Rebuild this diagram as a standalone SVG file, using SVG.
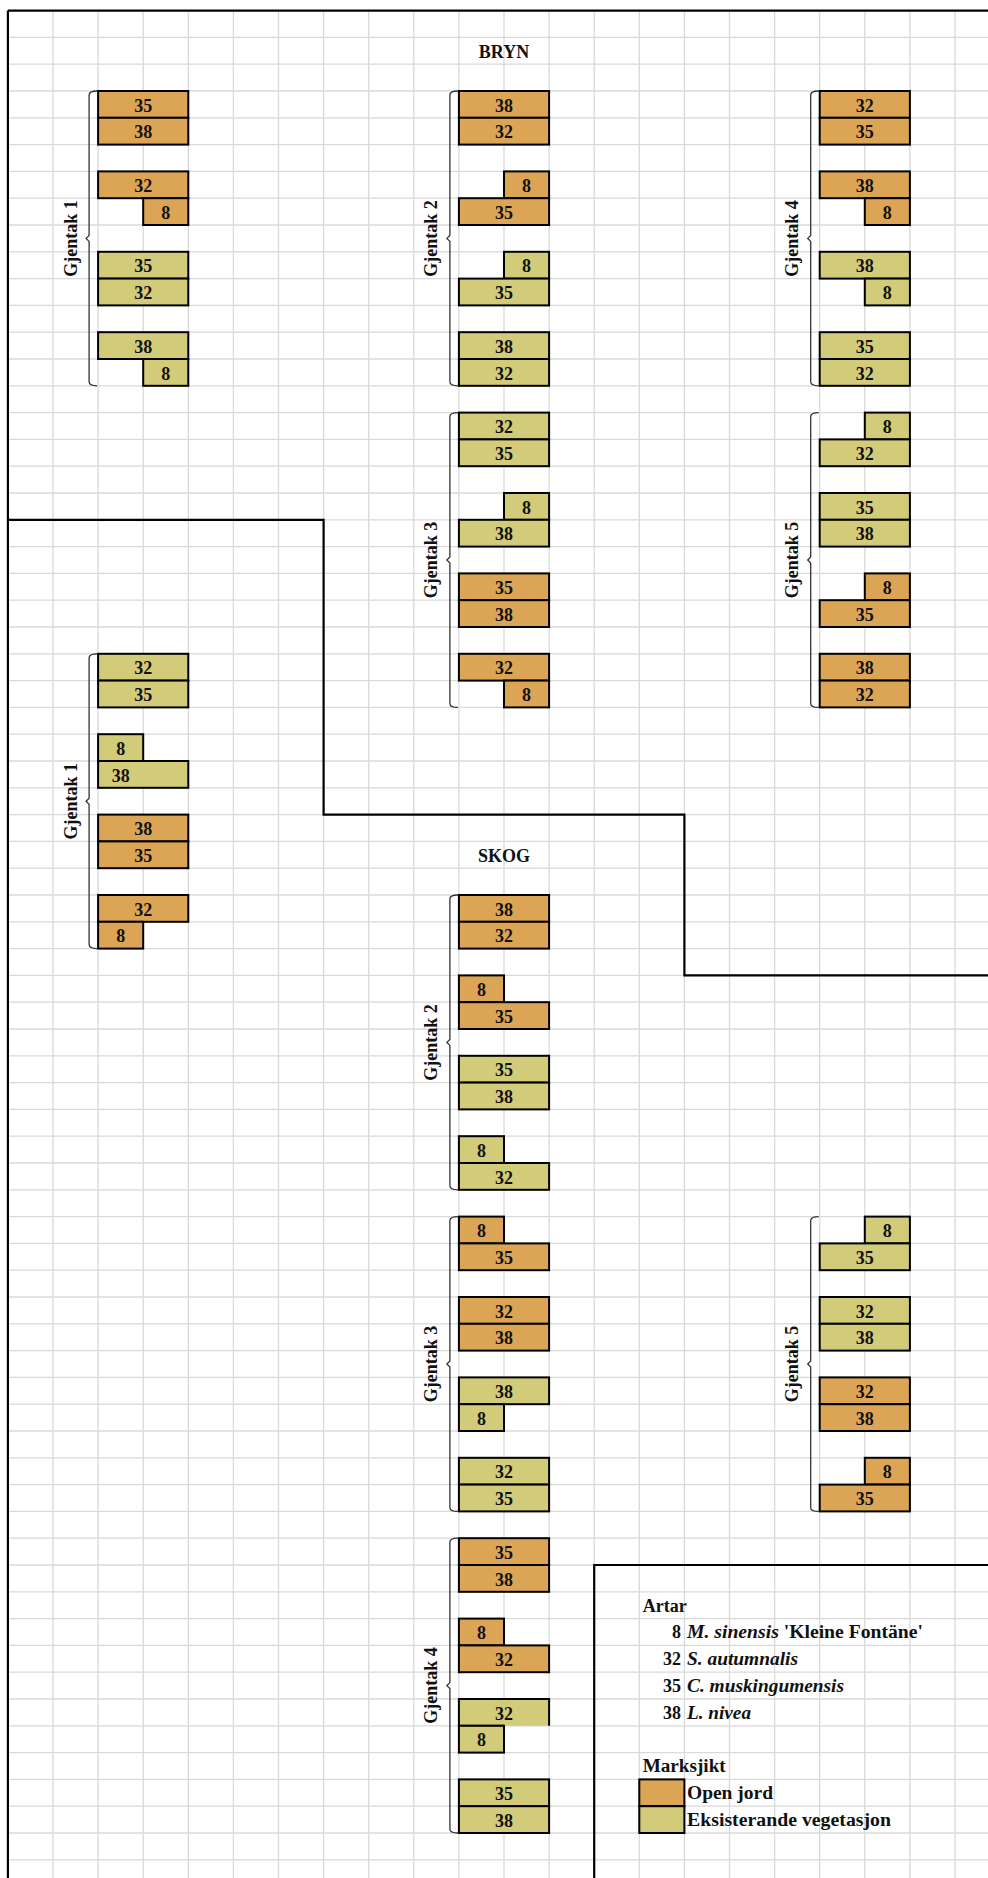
<svg xmlns="http://www.w3.org/2000/svg" width="988" height="1878" viewBox="0 0 988 1878">
<style>
.grid{stroke:#d9d9d9;stroke-width:1.3;fill:none}
.border{stroke:#000;stroke-width:2.2;fill:none}
.o{fill:#DCA556;stroke:#000;stroke-width:2}
.g{fill:#D2CB79;stroke:#000;stroke-width:2}
.gf{fill:#D2CB79;stroke:none}
.edge{fill:none;stroke:#000;stroke-width:2}
text{font-family:"Liberation Serif","Times New Roman",serif;font-weight:bold;font-size:18px;fill:#111}
.n{text-anchor:middle}
.r{text-anchor:end}
.i{font-style:italic}
.brace{fill:none;stroke:#333;stroke-width:1.3}
</style>
<rect width="988" height="1878" fill="#fff"/>
<g id="grid">
<path class="grid" d="M53,10.6V1878M98.1,10.6V1878M143.2,10.6V1878M188.3,10.6V1878M233.4,10.6V1878M278.5,10.6V1878M323.6,10.6V1878M368.7,10.6V1878M413.8,10.6V1878M458.9,10.6V1878M504,10.6V1878M549.1,10.6V1878M594.2,10.6V1878M639.3,10.6V1878M684.4,10.6V1878M729.5,10.6V1878M774.6,10.6V1878M819.7,10.6V1878M864.8,10.6V1878M909.9,10.6V1878M955,10.6V1878
M7.9,37.4H988M7.9,64.2H988M7.9,91H988M7.9,117.8H988M7.9,144.6H988M7.9,171.4H988M7.9,198.2H988M7.9,225H988M7.9,251.8H988M7.9,278.6H988M7.9,305.4H988M7.9,332.2H988M7.9,359H988M7.9,385.8H988M7.9,412.6H988M7.9,439.4H988M7.9,466.2H988M7.9,493H988M7.9,519.8H988M7.9,546.6H988M7.9,573.4H988M7.9,600.2H988M7.9,627H988M7.9,653.8H988M7.9,680.6H988M7.9,707.4H988M7.9,734.2H988M7.9,761H988M7.9,787.8H988M7.9,814.6H988M7.9,841.4H988M7.9,868.2H988M7.9,895H988M7.9,921.8H988M7.9,948.6H988M7.9,975.4H988M7.9,1002.2H988M7.9,1029H988M7.9,1055.8H988M7.9,1082.6H988M7.9,1109.4H988M7.9,1136.2H988M7.9,1163H988M7.9,1189.8H988M7.9,1216.6H988M7.9,1243.4H988M7.9,1270.2H988M7.9,1297H988M7.9,1323.8H988M7.9,1350.6H988M7.9,1377.4H988M7.9,1404.2H988M7.9,1431H988M7.9,1457.8H988M7.9,1484.6H988M7.9,1511.4H988M7.9,1538.2H988M7.9,1565H988M7.9,1591.8H988M7.9,1618.6H988M7.9,1645.4H988M7.9,1672.2H988M7.9,1699H988M7.9,1725.8H988M7.9,1752.6H988M7.9,1779.4H988M7.9,1806.2H988M7.9,1833H988M7.9,1859.8H988"/>
</g>
<g id="connectors">
<path class="border" d="M7.9,10.6H988M7.9,10.6V1878"/>
<path class="border" d="M7.9,519.8H323.6V814.6H684.4V975.4H988"/>
<path class="border" d="M594.2,1878V1565H988"/>
</g>
<g id="title-bryn"><text class="n" x="504" y="58">BRYN</text></g>
<g id="title-skog"><text class="n" x="504" y="862">SKOG</text></g>

<g id="bryn-gjentak-1">
<path class="brace" d="M97.1,91Q89.1,91 89.1,95V235.4L86.1,238.4L89.1,241.4V381.8Q89.1,385.8 97.1,385.8"/>
<text class="n" transform="translate(76.5,238.4) rotate(-90)">Gjentak 1</text>
<rect class="o" x="98.1" y="91" width="90.2" height="26.8"/><text class="n" x="143.2" y="111.6">35</text>
<rect class="o" x="98.1" y="117.8" width="90.2" height="26.8"/><text class="n" x="143.2" y="138.4">38</text>
<rect class="o" x="98.1" y="171.4" width="90.2" height="26.8"/><text class="n" x="143.2" y="192">32</text>
<rect class="o" x="143.2" y="198.2" width="45.1" height="26.8"/><text class="n" x="165.75" y="218.8">8</text>
<rect class="g" x="98.1" y="251.8" width="90.2" height="26.8"/><text class="n" x="143.2" y="272.4">35</text>
<rect class="g" x="98.1" y="278.6" width="90.2" height="26.8"/><text class="n" x="143.2" y="299.2">32</text>
<rect class="g" x="98.1" y="332.2" width="90.2" height="26.8"/><text class="n" x="143.2" y="352.8">38</text>
<rect class="g" x="143.2" y="359" width="45.1" height="26.8"/><text class="n" x="165.75" y="379.6">8</text>
</g>

<g id="bryn-gjentak-2">
<path class="brace" d="M457.9,91Q449.9,91 449.9,95V235.4L446.9,238.4L449.9,241.4V381.8Q449.9,385.8 457.9,385.8"/>
<text class="n" transform="translate(437.3,238.4) rotate(-90)">Gjentak 2</text>
<rect class="o" x="458.9" y="91" width="90.2" height="26.8"/><text class="n" x="504" y="111.6">38</text>
<rect class="o" x="458.9" y="117.8" width="90.2" height="26.8"/><text class="n" x="504" y="138.4">32</text>
<rect class="o" x="504" y="171.4" width="45.1" height="26.8"/><text class="n" x="526.55" y="192">8</text>
<rect class="o" x="458.9" y="198.2" width="90.2" height="26.8"/><text class="n" x="504" y="218.8">35</text>
<rect class="g" x="504" y="251.8" width="45.1" height="26.8"/><text class="n" x="526.55" y="272.4">8</text>
<rect class="g" x="458.9" y="278.6" width="90.2" height="26.8"/><text class="n" x="504" y="299.2">35</text>
<rect class="g" x="458.9" y="332.2" width="90.2" height="26.8"/><text class="n" x="504" y="352.8">38</text>
<rect class="g" x="458.9" y="359" width="90.2" height="26.8"/><text class="n" x="504" y="379.6">32</text>
</g>

<g id="bryn-gjentak-4">
<path class="brace" d="M818.7,91Q810.7,91 810.7,95V235.4L807.7,238.4L810.7,241.4V381.8Q810.7,385.8 818.7,385.8"/>
<text class="n" transform="translate(798.1,238.4) rotate(-90)">Gjentak 4</text>
<rect class="o" x="819.7" y="91" width="90.2" height="26.8"/><text class="n" x="864.8" y="111.6">32</text>
<rect class="o" x="819.7" y="117.8" width="90.2" height="26.8"/><text class="n" x="864.8" y="138.4">35</text>
<rect class="o" x="819.7" y="171.4" width="90.2" height="26.8"/><text class="n" x="864.8" y="192">38</text>
<rect class="o" x="864.8" y="198.2" width="45.1" height="26.8"/><text class="n" x="887.35" y="218.8">8</text>
<rect class="g" x="819.7" y="251.8" width="90.2" height="26.8"/><text class="n" x="864.8" y="272.4">38</text>
<rect class="g" x="864.8" y="278.6" width="45.1" height="26.8"/><text class="n" x="887.35" y="299.2">8</text>
<rect class="g" x="819.7" y="332.2" width="90.2" height="26.8"/><text class="n" x="864.8" y="352.8">35</text>
<rect class="g" x="819.7" y="359" width="90.2" height="26.8"/><text class="n" x="864.8" y="379.6">32</text>
</g>

<g id="bryn-gjentak-3">
<path class="brace" d="M457.9,412.6Q449.9,412.6 449.9,416.6V557L446.9,560L449.9,563V703.4Q449.9,707.4 457.9,707.4"/>
<text class="n" transform="translate(437.3,560) rotate(-90)">Gjentak 3</text>
<rect class="g" x="458.9" y="412.6" width="90.2" height="26.8"/><text class="n" x="504" y="433.2">32</text>
<rect class="g" x="458.9" y="439.4" width="90.2" height="26.8"/><text class="n" x="504" y="460">35</text>
<rect class="g" x="504" y="493" width="45.1" height="26.8"/><text class="n" x="526.55" y="513.6">8</text>
<rect class="g" x="458.9" y="519.8" width="90.2" height="26.8"/><text class="n" x="504" y="540.4">38</text>
<rect class="o" x="458.9" y="573.4" width="90.2" height="26.8"/><text class="n" x="504" y="594">35</text>
<rect class="o" x="458.9" y="600.2" width="90.2" height="26.8"/><text class="n" x="504" y="620.8">38</text>
<rect class="o" x="458.9" y="653.8" width="90.2" height="26.8"/><text class="n" x="504" y="674.4">32</text>
<rect class="o" x="504" y="680.6" width="45.1" height="26.8"/><text class="n" x="526.55" y="701.2">8</text>
</g>

<g id="bryn-gjentak-5">
<path class="brace" d="M818.7,412.6Q810.7,412.6 810.7,416.6V557L807.7,560L810.7,563V703.4Q810.7,707.4 818.7,707.4"/>
<text class="n" transform="translate(798.1,560) rotate(-90)">Gjentak 5</text>
<rect class="g" x="864.8" y="412.6" width="45.1" height="26.8"/><text class="n" x="887.35" y="433.2">8</text>
<rect class="g" x="819.7" y="439.4" width="90.2" height="26.8"/><text class="n" x="864.8" y="460">32</text>
<rect class="g" x="819.7" y="493" width="90.2" height="26.8"/><text class="n" x="864.8" y="513.6">35</text>
<rect class="g" x="819.7" y="519.8" width="90.2" height="26.8"/><text class="n" x="864.8" y="540.4">38</text>
<rect class="o" x="864.8" y="573.4" width="45.1" height="26.8"/><text class="n" x="887.35" y="594">8</text>
<rect class="o" x="819.7" y="600.2" width="90.2" height="26.8"/><text class="n" x="864.8" y="620.8">35</text>
<rect class="o" x="819.7" y="653.8" width="90.2" height="26.8"/><text class="n" x="864.8" y="674.4">38</text>
<rect class="o" x="819.7" y="680.6" width="90.2" height="26.8"/><text class="n" x="864.8" y="701.2">32</text>
</g>

<g id="skog-gjentak-1">
<path class="brace" d="M97.1,653.8Q89.1,653.8 89.1,657.8V798.2L86.1,801.2L89.1,804.2V944.6Q89.1,948.6 97.1,948.6"/>
<text class="n" transform="translate(76.5,801.2) rotate(-90)">Gjentak 1</text>
<rect class="g" x="98.1" y="653.8" width="90.2" height="26.8"/><text class="n" x="143.2" y="674.4">32</text>
<rect class="g" x="98.1" y="680.6" width="90.2" height="26.8"/><text class="n" x="143.2" y="701.2">35</text>
<rect class="g" x="98.1" y="734.2" width="45.1" height="26.8"/><text class="n" x="120.65" y="754.8">8</text>
<rect class="g" x="98.1" y="761" width="90.2" height="26.8"/><text class="n" x="120.65" y="781.6">38</text>
<rect class="o" x="98.1" y="814.6" width="90.2" height="26.8"/><text class="n" x="143.2" y="835.2">38</text>
<rect class="o" x="98.1" y="841.4" width="90.2" height="26.8"/><text class="n" x="143.2" y="862">35</text>
<rect class="o" x="98.1" y="895" width="90.2" height="26.8"/><text class="n" x="143.2" y="915.6">32</text>
<rect class="o" x="98.1" y="921.8" width="45.1" height="26.8"/><text class="n" x="120.65" y="942.4">8</text>
</g>

<g id="skog-gjentak-2">
<path class="brace" d="M457.9,895Q449.9,895 449.9,899V1039.4L446.9,1042.4L449.9,1045.4V1185.8Q449.9,1189.8 457.9,1189.8"/>
<text class="n" transform="translate(437.3,1042.4) rotate(-90)">Gjentak 2</text>
<rect class="o" x="458.9" y="895" width="90.2" height="26.8"/><text class="n" x="504" y="915.6">38</text>
<rect class="o" x="458.9" y="921.8" width="90.2" height="26.8"/><text class="n" x="504" y="942.4">32</text>
<rect class="o" x="458.9" y="975.4" width="45.1" height="26.8"/><text class="n" x="481.45" y="996">8</text>
<rect class="o" x="458.9" y="1002.2" width="90.2" height="26.8"/><text class="n" x="504" y="1022.8">35</text>
<rect class="g" x="458.9" y="1055.8" width="90.2" height="26.8"/><text class="n" x="504" y="1076.4">35</text>
<rect class="g" x="458.9" y="1082.6" width="90.2" height="26.8"/><text class="n" x="504" y="1103.2">38</text>
<rect class="g" x="458.9" y="1136.2" width="45.1" height="26.8"/><text class="n" x="481.45" y="1156.8">8</text>
<rect class="g" x="458.9" y="1163" width="90.2" height="26.8"/><text class="n" x="504" y="1183.6">32</text>
</g>

<g id="skog-gjentak-3">
<path class="brace" d="M457.9,1216.6Q449.9,1216.6 449.9,1220.6V1361L446.9,1364L449.9,1367V1507.4Q449.9,1511.4 457.9,1511.4"/>
<text class="n" transform="translate(437.3,1364) rotate(-90)">Gjentak 3</text>
<rect class="o" x="458.9" y="1216.6" width="45.1" height="26.8"/><text class="n" x="481.45" y="1237.2">8</text>
<rect class="o" x="458.9" y="1243.4" width="90.2" height="26.8"/><text class="n" x="504" y="1264">35</text>
<rect class="o" x="458.9" y="1297" width="90.2" height="26.8"/><text class="n" x="504" y="1317.6">32</text>
<rect class="o" x="458.9" y="1323.8" width="90.2" height="26.8"/><text class="n" x="504" y="1344.4">38</text>
<rect class="g" x="458.9" y="1377.4" width="90.2" height="26.8"/><text class="n" x="504" y="1398">38</text>
<rect class="g" x="458.9" y="1404.2" width="45.1" height="26.8"/><text class="n" x="481.45" y="1424.8">8</text>
<rect class="g" x="458.9" y="1457.8" width="90.2" height="26.8"/><text class="n" x="504" y="1478.4">32</text>
<rect class="g" x="458.9" y="1484.6" width="90.2" height="26.8"/><text class="n" x="504" y="1505.2">35</text>
</g>

<g id="skog-gjentak-5">
<path class="brace" d="M818.7,1216.6Q810.7,1216.6 810.7,1220.6V1361L807.7,1364L810.7,1367V1507.4Q810.7,1511.4 818.7,1511.4"/>
<text class="n" transform="translate(798.1,1364) rotate(-90)">Gjentak 5</text>
<rect class="g" x="864.8" y="1216.6" width="45.1" height="26.8"/><text class="n" x="887.35" y="1237.2">8</text>
<rect class="g" x="819.7" y="1243.4" width="90.2" height="26.8"/><text class="n" x="864.8" y="1264">35</text>
<rect class="g" x="819.7" y="1297" width="90.2" height="26.8"/><text class="n" x="864.8" y="1317.6">32</text>
<rect class="g" x="819.7" y="1323.8" width="90.2" height="26.8"/><text class="n" x="864.8" y="1344.4">38</text>
<rect class="o" x="819.7" y="1377.4" width="90.2" height="26.8"/><text class="n" x="864.8" y="1398">32</text>
<rect class="o" x="819.7" y="1404.2" width="90.2" height="26.8"/><text class="n" x="864.8" y="1424.8">38</text>
<rect class="o" x="864.8" y="1457.8" width="45.1" height="26.8"/><text class="n" x="887.35" y="1478.4">8</text>
<rect class="o" x="819.7" y="1484.6" width="90.2" height="26.8"/><text class="n" x="864.8" y="1505.2">35</text>
</g>

<g id="skog-gjentak-4">
<path class="brace" d="M457.9,1538.2Q449.9,1538.2 449.9,1542.2V1682.6L446.9,1685.6L449.9,1688.6V1829Q449.9,1833 457.9,1833"/>
<text class="n" transform="translate(437.3,1685.6) rotate(-90)">Gjentak 4</text>
<rect class="o" x="458.9" y="1538.2" width="90.2" height="26.8"/><text class="n" x="504" y="1558.8">35</text>
<rect class="o" x="458.9" y="1565" width="90.2" height="26.8"/><text class="n" x="504" y="1585.6">38</text>
<rect class="o" x="458.9" y="1618.6" width="45.1" height="26.8"/><text class="n" x="481.45" y="1639.2">8</text>
<rect class="o" x="458.9" y="1645.4" width="90.2" height="26.8"/><text class="n" x="504" y="1666">32</text>
<rect class="gf" x="458.9" y="1699" width="90.2" height="26.8"/>
<path class="edge" d="M504,1725.8H458.9V1699H549.1V1725.8"/><text class="n" x="504" y="1719.6">32</text>
<rect class="g" x="458.9" y="1725.8" width="45.1" height="26.8"/><text class="n" x="481.45" y="1746.4">8</text>
<rect class="g" x="458.9" y="1779.4" width="90.2" height="26.8"/><text class="n" x="504" y="1800">35</text>
<rect class="g" x="458.9" y="1806.2" width="90.2" height="26.8"/><text class="n" x="504" y="1826.8">38</text>
</g>

<g id="legend">
<text x="642.7" y="1611.6" textLength="44" lengthAdjust="spacingAndGlyphs">Artar</text>
<text class="r" x="681" y="1638.4">8</text>
<text x="687" y="1638.4" textLength="236" lengthAdjust="spacingAndGlyphs"><tspan class="i">M. sinensis</tspan> 'Kleine Fontäne'</text>
<text class="r" x="681" y="1665.2">32</text>
<text class="i" x="687" y="1665.2" textLength="111" lengthAdjust="spacingAndGlyphs">S. autumnalis</text>
<text class="r" x="681" y="1692">35</text>
<text class="i" x="687" y="1692" textLength="157" lengthAdjust="spacingAndGlyphs">C. muskingumensis</text>
<text class="r" x="681" y="1718.8">38</text>
<text class="i" x="687" y="1718.8" textLength="64" lengthAdjust="spacingAndGlyphs">L. nivea</text>
<text x="642.7" y="1772.4" textLength="83" lengthAdjust="spacingAndGlyphs">Marksjikt</text>
<rect class="o" x="639.3" y="1779.4" width="45.1" height="26.8"/>
<text x="687" y="1799.2" textLength="86" lengthAdjust="spacingAndGlyphs">Open jord</text>
<rect class="g" x="639.3" y="1806.2" width="45.1" height="26.8"/>
<text x="687" y="1826" textLength="204" lengthAdjust="spacingAndGlyphs">Eksisterande vegetasjon</text>
</g>
</svg>
